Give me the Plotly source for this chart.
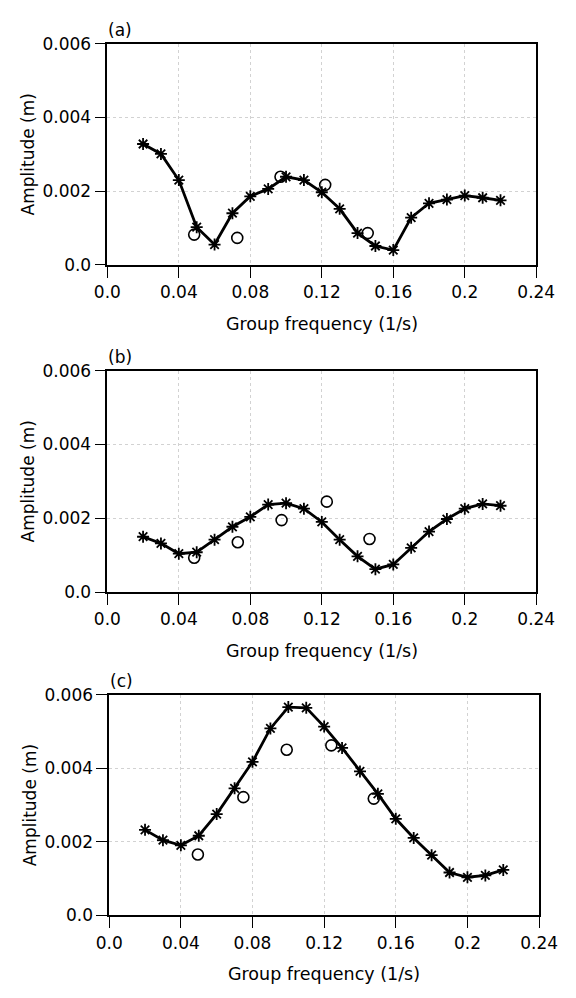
import plotly.graph_objects as go

freq = [0.02, 0.03, 0.04, 0.05, 0.06, 0.07, 0.08, 0.09, 0.10, 0.11, 0.12,
        0.13, 0.14, 0.15, 0.16, 0.17, 0.18, 0.19, 0.20, 0.21, 0.22]
amp_a = [0.00328, 0.00301, 0.00230, 0.00102, 0.00055, 0.00140, 0.00186, 0.00206,
         0.00239, 0.00230, 0.00197, 0.00152, 0.00086, 0.00051, 0.00040, 0.00128,
         0.00167, 0.00177, 0.00188, 0.00182, 0.00175]
amp_b = [0.00150, 0.00132, 0.00104, 0.00108, 0.00142, 0.00177, 0.00204, 0.00237,
         0.00241, 0.00226, 0.00190, 0.00142, 0.00097, 0.00062, 0.00075, 0.00120,
         0.00164, 0.00198, 0.00226, 0.00239, 0.00234]
amp_c = [0.00233, 0.00205, 0.00191, 0.00217, 0.00276, 0.00346, 0.00418, 0.00509,
         0.00567, 0.00565, 0.00514, 0.00456, 0.00392, 0.00331, 0.00263, 0.00211,
         0.00164, 0.00117, 0.00104, 0.00109, 0.00124]

obs_freq_a = [0.0486, 0.0727, 0.0969, 0.1219, 0.1457]
obs_a = [0.00082, 0.00073, 0.00239, 0.00217, 0.00086]
obs_freq_b = [0.0486, 0.0730, 0.0975, 0.1228, 0.1467]
obs_b = [0.00093, 0.00135, 0.00195, 0.00245, 0.00144]
obs_freq_c = [0.0495, 0.0749, 0.0991, 0.1240, 0.1477]
obs_c = [0.00166, 0.00322, 0.00451, 0.00463, 0.00318]

x_ticks = [0.0, 0.04, 0.08, 0.12, 0.16, 0.20, 0.24]
x_tick_text = ["0.0", "0.04", "0.08", "0.12", "0.16", "0.2", "0.24"]
y_ticks = [0.0, 0.002, 0.004, 0.006]
y_tick_text = ["0.0", "0.002", "0.004", "0.006"]
panel_labels = ["(a)", "(b)", "(c)"]

W, H = 576, 998
# pixel boxes of each plot area: (left, right, top, bottom)
boxes = [(99, 554, 34.5, 260), (99, 554, 368, 594), (101, 557, 699, 924)]

FONT = "DejaVu Sans"
fig = go.Figure()
series = [(amp_a, obs_freq_a, obs_a), (amp_b, obs_freq_b, obs_b), (amp_c, obs_freq_c, obs_c)]

annotations = []
for i, ((amp, of, ob), (l, r, t, b)) in enumerate(zip(series, boxes)):
    xa = "x" if i == 0 else f"x{i+1}"
    ya = "y" if i == 0 else f"y{i+1}"
    fig.add_trace(go.Scatter(
        x=freq, y=amp, mode="lines+markers", xaxis=xa, yaxis=ya,
        line=dict(color="black", width=2.8),
        marker=dict(symbol="asterisk-open", size=10, color="black",
                    line=dict(color="black", width=1.8)),
        showlegend=False))
    fig.add_trace(go.Scatter(
        x=of, y=ob, mode="markers", xaxis=xa, yaxis=ya,
        marker=dict(symbol="circle-open", size=11, color="black",
                    line=dict(color="black", width=1.6)),
        showlegend=False))
    axis_common = dict(showline=True, linecolor="black", linewidth=1.5, mirror=True,
                       ticks="outside", ticklen=11, tickwidth=1.3, tickcolor="black",
                       showgrid=True, gridcolor="#d2d2d2", griddash="dot", gridwidth=1,
                       zeroline=False,
                       tickfont=dict(family=FONT, size=17, color="black"))
    xkey = "xaxis" if i == 0 else f"xaxis{i+1}"
    ykey = "yaxis" if i == 0 else f"yaxis{i+1}"
    fig.update_layout({
        xkey: dict(axis_common, domain=[l / W, r / W], anchor=ya, range=[0, 0.24],
                   tickvals=x_ticks, ticktext=x_tick_text),
        ykey: dict(axis_common, domain=[1 - b / H, 1 - t / H], anchor=xa, range=[0, 0.006],
                   tickvals=y_ticks, ticktext=y_tick_text),
    })
    annotations.append(dict(text=panel_labels[i], xref="paper", yref="paper",
                            x=(l - 1) / W, y=1 - (t - 14) / H, xanchor="left", yanchor="middle",
                            showarrow=False, font=dict(family=FONT, size=17, color="black")))
    annotations.append(dict(text="Group frequency (1/s)", xref="paper", yref="paper",
                            x=(l + r) / 2 / W, y=1 - (b + 60) / H, xanchor="center", yanchor="middle",
                            showarrow=False, font=dict(family=FONT, size=17.5, color="black")))
    annotations.append(dict(text="Amplitude (m)", xref="paper", yref="paper",
                            x=(l - 84) / W, y=1 - (t + b) / 2 / H, xanchor="center", yanchor="middle",
                            textangle=-90, showarrow=False,
                            font=dict(family=FONT, size=17, color="black")))

fig.update_layout(width=W, height=H, margin=dict(l=0, r=0, t=0, b=0),
                  paper_bgcolor="white", plot_bgcolor="white",
                  annotations=annotations)
fig.write_html("out.html")
